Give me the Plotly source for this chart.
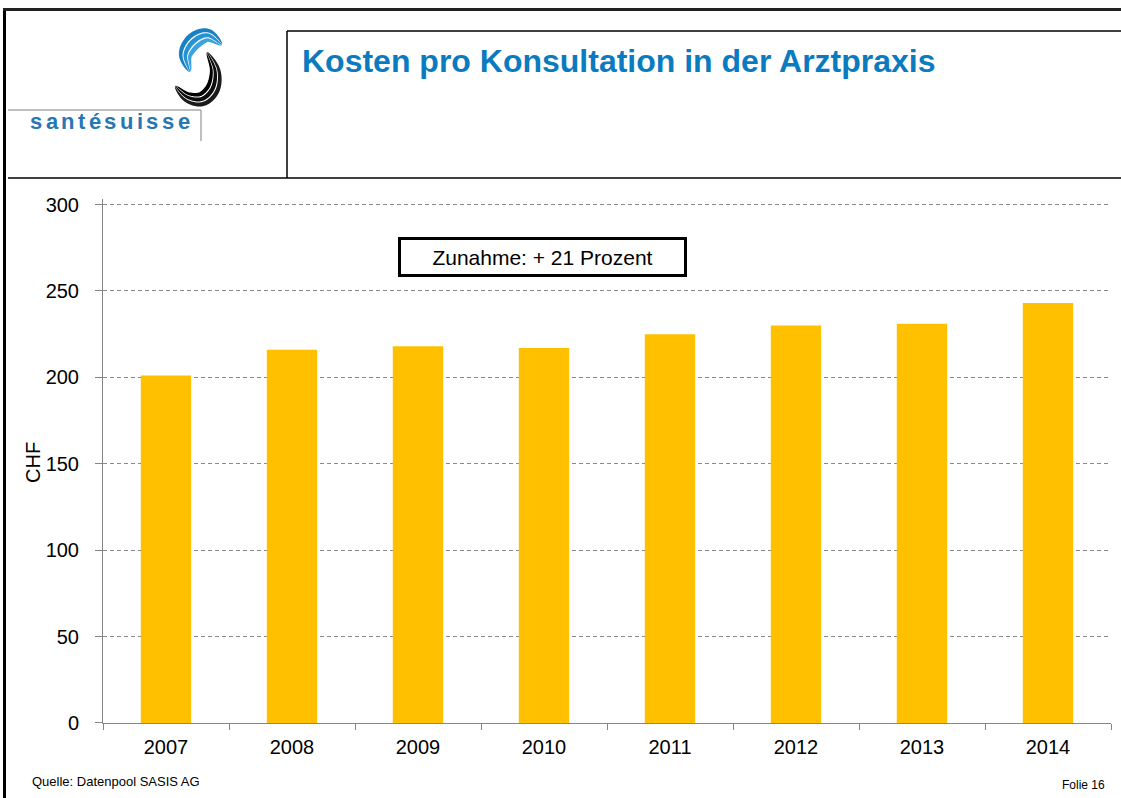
import numpy as np
import plotly.graph_objects as go

# ---- data ----
years = ["2007", "2008", "2009", "2010", "2011", "2012", "2013", "2014"]
cost_chf = [201, 216, 218, 217, 225, 230, 231, 243]
y_ticks = [0, 50, 100, 150, 200, 250, 300]

W, H = 1121, 798
FONT = "Liberation Sans, Arial, sans-serif"


def px(x):
    return x / W


def py(y):
    return 1 - y / H


fig = go.Figure(
    go.Bar(
        x=years,
        y=cost_chf,
        marker=dict(color="#FFC000", line=dict(width=0)),
        hoverinfo="x+y",
    )
)

shapes = []


def line(x0, y0, x1, y1, color="black", width=1.5):
    shapes.append(dict(type="line", xref="paper", yref="paper",
                       x0=px(x0), y0=py(y0), x1=px(x1), y1=py(y1),
                       line=dict(color=color, width=width), layer="above"))


# slide frame
line(4.5, 8, 4.5, 798, width=3)
line(3, 9.5, 1121, 9.5, color="#222222", width=3)
# header box
line(8, 178, 1121, 178)
line(287, 31, 287, 178)
line(287, 31, 1121, 31)
# logo frame lines
line(8, 110, 201, 110, color="#a8a8a8", width=1.5)
line(201, 110, 201, 141, color="#a8a8a8", width=1.5)


def catmull(points, n_per=16):
    P = np.array(points, dtype=float)
    P = np.vstack([P[0], P, P[-1]])
    out = []
    for i in range(1, len(P) - 2):
        p0, p1, p2, p3 = P[i - 1], P[i], P[i + 1], P[i + 2]
        for t in np.linspace(0, 1, n_per, endpoint=False):
            t2, t3 = t * t, t * t * t
            out.append(0.5 * ((2 * p1) + (-p0 + p2) * t + (2 * p0 - 5 * p1 + 4 * p2 - p3) * t2
                              + (-p0 + 3 * p1 - 3 * p2 + p3) * t3))
    out.append(P[-2])
    return np.array(out)


def swirl(center_pts, half_thick, bands, colors):
    C = catmull(center_pts)
    d = np.gradient(C, axis=0)
    d /= np.linalg.norm(d, axis=1, keepdims=True)
    nrm = np.stack([-d[:, 1], d[:, 0]], axis=1)
    t = np.linspace(0, 1, len(C))
    e = np.sin(np.pi * t) ** 0.7 * half_thick
    for (a, b), col in zip(bands, colors):
        A = C + nrm * (e * a)[:, None]
        B = C + nrm * (e * b)[:, None]
        pts = np.vstack([A, B[::-1]])
        path = "M " + " L ".join(f"{px(x):.5f},{py(y):.5f}" for x, y in pts) + " Z"
        shapes.append(dict(type="path", xref="paper", yref="paper", path=path,
                           fillcolor=col, line=dict(width=0), layer="above"))


bands3 = [(-1.0, -0.42), (-0.27, 0.3), (0.45, 1.0)]
# blue upper crescent
swirl([(222, 45), (208, 35.5), (194, 41), (185.5, 55), (190, 72)], 8.5, bands3,
      ["#3aa3e0", "#2592d4", "#1a80c4"])
# black lower crescent
swirl([(207, 52), (215, 70), (213, 88), (202, 99), (187, 97), (175, 86)], 7.5, bands3,
      ["#1a1a1a", "#0d0d0d", "#000000"])

annotations = []

# logo text, letter-spaced
logo_text = "santésuisse"
arial_bold_w = {"s": .556, "a": .556, "n": .611, "t": .333, "é": .556,
                "u": .611, "i": .278, "e": .556}
fs = 22
gap = 3.4
xcur = 28
for ch in logo_text:
    annotations.append(dict(text=ch, xref="paper", yref="paper", x=px(xcur), y=py(122),
                            xanchor="left", yanchor="middle", showarrow=False,
                            font=dict(family=FONT, size=fs, color="#2677b2", weight="bold")))
    xcur += arial_bold_w[ch] * fs + gap

# title
annotations.append(dict(text="<b>Kosten pro Konsultation in der Arztpraxis</b>",
                        xref="paper", yref="paper", x=px(300), y=py(61),
                        xanchor="left", yanchor="middle", showarrow=False,
                        font=dict(family=FONT, size=32, color="#0b7bc0")))

# boxed note
annotations.append(dict(text="Zunahme: + 21 Prozent", xref="paper", yref="paper",
                        x=px(542.5), y=py(257.5), xanchor="center", yanchor="middle",
                        showarrow=False, bgcolor="white", bordercolor="black",
                        borderwidth=3, borderpad=3, width=277, height=28,
                        font=dict(family=FONT, size=21, color="black")))

# y axis title
annotations.append(dict(text="CHF", xref="paper", yref="paper", x=px(33), y=py(463),
                        xanchor="center", yanchor="middle", textangle=-90, showarrow=False,
                        font=dict(family=FONT, size=20, color="black")))

# footer
annotations.append(dict(text="Quelle: Datenpool SASIS AG", xref="paper", yref="paper",
                        x=px(30), y=py(781), xanchor="left", yanchor="middle", showarrow=False,
                        font=dict(family=FONT, size=13, color="black")))
annotations.append(dict(text="Folie 16", xref="paper", yref="paper",
                        x=px(1107), y=py(785), xanchor="right", yanchor="middle", showarrow=False,
                        font=dict(family=FONT, size=12, color="black")))

y_top = 303
y0_px, y300_px = 723, 204.5
top_px = y0_px - (y0_px - y300_px) * y_top / 300

fig.update_layout(
    width=W, height=H,
    margin=dict(l=0, r=0, t=0, b=0),
    paper_bgcolor="white", plot_bgcolor="white",
    bargap=0.6,
    showlegend=False,
    font=dict(family=FONT, color="black"),
    shapes=shapes,
    annotations=annotations,
    xaxis=dict(
        type="category",
        domain=[px(103), px(1111)],
        showline=True, linecolor="#868686", linewidth=1,
        ticks="outside", tickson="boundaries", ticklen=6, tickcolor="#868686",
        tickfont=dict(family=FONT, size=20, color="black"),
        showgrid=False, automargin=False,
        ticklabelstandoff=6,
    ),
    yaxis=dict(
        domain=[py(y0_px), py(top_px)],
        range=[0, y_top], tickvals=y_ticks,
        showgrid=True, gridcolor="#8a8a8a", griddash="4px,3px", gridwidth=1,
        showline=True, linecolor="#868686", linewidth=1,
        ticks="outside", ticklen=7, tickcolor="#868686",
        tickfont=dict(family=FONT, size=20, color="black"),
        zeroline=False, automargin=False,
        ticklabelstandoff=12,
    ),
)

fig.write_html(
    "out.html",
    config={"displayModeBar": False},
    post_script="document.body.style.margin='0';document.body.style.overflow='hidden';",
)
